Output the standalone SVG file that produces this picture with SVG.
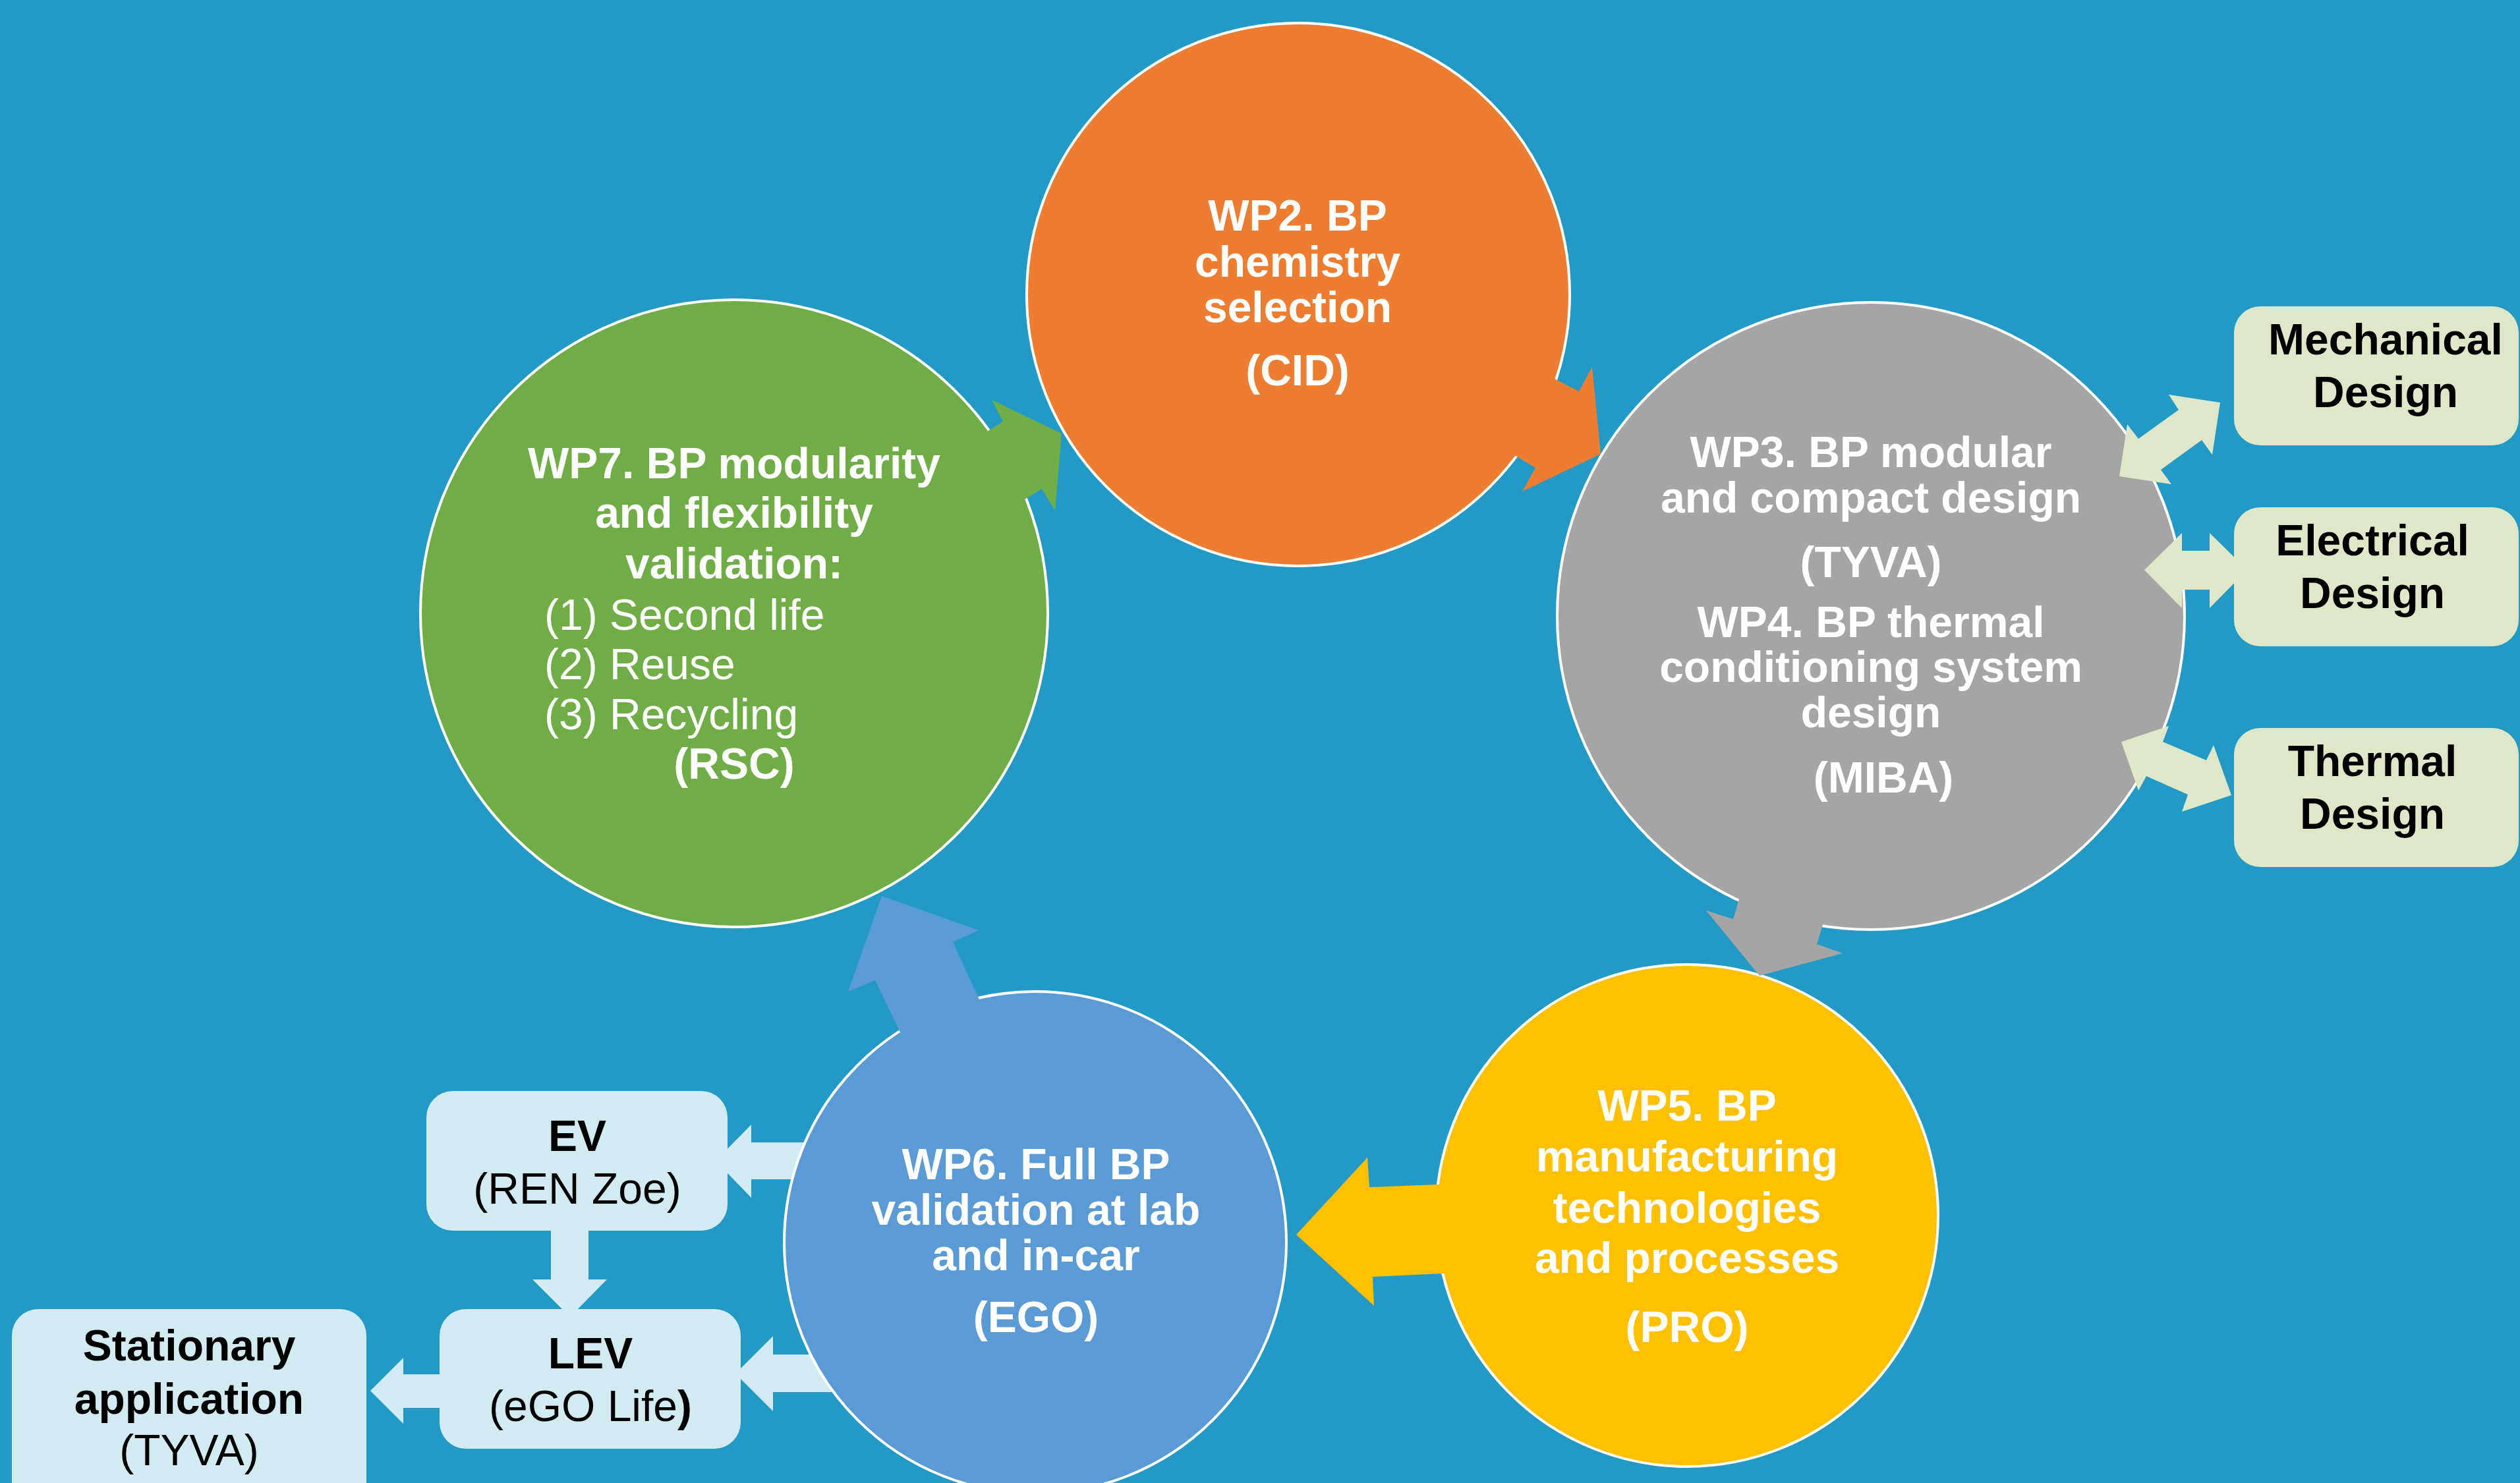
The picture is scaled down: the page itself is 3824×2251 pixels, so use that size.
<svg xmlns="http://www.w3.org/2000/svg" width="3824" height="2251" viewBox="0 0 3824 2251">
<style>
.wp{stroke:#FFFFFF;stroke-width:4}
.t{font-family:"Liberation Sans",Arial,sans-serif;font-size:66px;text-anchor:middle}
.s{text-anchor:start}
.w{fill:#FFFFFF;font-weight:bold}
.wr{fill:#FFFFFF;font-weight:normal}
.k{fill:#000000;font-weight:bold}
.kr{fill:#000000;font-weight:normal}
.lg{fill:#DEE8C8}
.lb{fill:#D2EAF1}
</style>
<rect x="0" y="0" width="3824" height="2251" fill="#239AC5"/>
<g id="connectors">
  <polygon class="lb" points="1086,1762 1140,1707 1140,1734 1250,1734 1250,1790 1140,1790 1140,1818"/>
  <polygon class="lb" points="1116,2085 1173,2028 1173,2056 1290,2056 1290,2113 1173,2113 1173,2142"/>
  <polygon class="lb" points="836,1860 893,1860 893,1942 921,1942 865,1999 808,1942 836,1942"/>
  <polygon class="lb" points="562,2111 612,2061 612,2086 680,2086 680,2137 612,2137 612,2161"/>
</g>
<g id="ev">
  <rect class="lb" x="647" y="1656" width="457" height="212" rx="40"/>
  <text class="t k" x="876" y="1747">EV</text>
  <text class="t kr" x="876" y="1827">(REN Zoe)</text>
</g>
<g id="lev">
  <rect class="lb" x="667" y="1987" width="457" height="212" rx="40"/>
  <text class="t k" x="896" y="2077">LEV</text>
  <text class="t kr" x="896" y="2157">(eGO Life<tspan font-weight="bold">)</tspan></text>
</g>
<g id="stationary">
  <rect class="lb" x="18" y="1987" width="538" height="320" rx="40"/>
  <text class="t k" x="287" y="2065">Stationary</text>
  <text class="t k" x="287" y="2146">application</text>
  <text class="t kr" x="287" y="2224">(TYVA)</text>
</g>
<g id="wp2">
  <circle class="wp" cx="1970" cy="447" r="412" fill="#ED7D31"/>
</g>
<g id="wp34">
  <circle class="wp" cx="2839" cy="935" r="476" fill="#A5A5A5"/>
</g>
<g id="wp7">
  <circle class="wp" cx="1114" cy="931" r="476" fill="#70AD47"/>
</g>
<g id="wp6">
  <circle class="wp" cx="1571" cy="1886" r="381" fill="#5B9BD5"/>
</g>
<g id="wp5">
  <circle class="wp" cx="2560" cy="1845" r="381" fill="#FFC000"/>
</g>
<g id="cycle-arrows">
  <polygon fill="#ED7D31" points="2326,558 2361,576 2396,594 2416,557 2429,689 2310,746 2330,710 2300,692 2270,674"/>
  <polygon fill="#70AD47" points="1459,679 1501,653 1522,640 1505,607 1611,658 1601,775 1581,742 1558,756 1512,784"/>
  <polygon fill="#A5A5A5" points="2646,1341 2638,1368 2630,1395 2589,1382 2670,1481 2796,1447 2757,1433 2765,1407 2773,1380"/>
  <polygon fill="#FFC000" points="2220,1796 2180,1798 2078,1802 2075,1757 1967,1874 2085,1982 2083,1938 2189,1933 2229,1931"/>
  <polygon fill="#5B9BD5" points="1381,1599 1366,1567 1328,1488 1287,1505 1338,1360 1485,1412 1446,1430 1486,1517 1502,1552"/>
</g>
<g id="design-arrows">
  <polygon class="lg" points="3216,723 3228,644 3245,666 3306,622 3291,599 3369,611 3357,690 3341,668 3279,713 3295,735"/>
  <polygon class="lg" points="3254,865 3311,809 3311,836 3353,836 3353,809 3410,865 3353,923 3353,895 3311,895 3311,923"/>
  <polygon class="lg" points="3219,1126 3291,1102 3282,1126 3348,1154 3359,1131 3386,1207 3311,1232 3320,1206 3257,1178 3245,1200"/>
</g>
<g id="mechanical">
  <rect class="lg" x="3390" y="465" width="432" height="211" rx="40"/>
  <text class="t k" x="3620" y="538">Mechanical</text>
  <text class="t k" x="3620" y="618">Design</text>
</g>
<g id="electrical">
  <rect class="lg" x="3390" y="770" width="432" height="211" rx="40"/>
  <text class="t k" x="3600" y="843">Electrical</text>
  <text class="t k" x="3600" y="923">Design</text>
</g>
<g id="thermal">
  <rect class="lg" x="3390" y="1105" width="432" height="211" rx="40"/>
  <text class="t k" x="3600" y="1178">Thermal</text>
  <text class="t k" x="3600" y="1258">Design</text>
</g>
<g id="labels">
  <text class="t w" x="1969" y="350">WP2. BP</text>
  <text class="t w" x="1969" y="420">chemistry</text>
  <text class="t w" x="1969" y="489">selection</text>
  <text class="t w" x="1969" y="585">(CID)</text>

  <text class="t w" x="2839" y="709">WP3. BP modular</text>
  <text class="t w" x="2839" y="778">and compact design</text>
  <text class="t w" x="2839" y="876">(TYVA)</text>
  <text class="t w" x="2839" y="967">WP4. BP thermal</text>
  <text class="t w" x="2839" y="1035">conditioning system</text>
  <text class="t w" x="2839" y="1104">design</text>
  <text class="t w" x="2858" y="1203">(MIBA)</text>

  <text class="t w" x="1114" y="726">WP7. BP modularity</text>
  <text class="t w" x="1114" y="801">and flexibility</text>
  <text class="t w" x="1114" y="878">validation:</text>
  <text class="t s wr" x="826" y="956">(1) Second life</text>
  <text class="t s wr" x="826" y="1031">(2) Reuse</text>
  <text class="t s wr" x="826" y="1107">(3) Recycling</text>
  <text class="t w" x="1114" y="1182">(RSC)</text>

  <text class="t w" x="1572" y="1790">WP6. Full BP</text>
  <text class="t w" x="1572" y="1859">validation at lab</text>
  <text class="t w" x="1572" y="1928">and in-car</text>
  <text class="t w" x="1572" y="2022">(EGO)</text>

  <text class="t w" x="2560" y="1701">WP5. BP</text>
  <text class="t w" x="2560" y="1778">manufacturing</text>
  <text class="t w" x="2560" y="1856">technologies</text>
  <text class="t w" x="2560" y="1932">and processes</text>
  <text class="t w" x="2560" y="2037">(PRO)</text>
</g>
</svg>
